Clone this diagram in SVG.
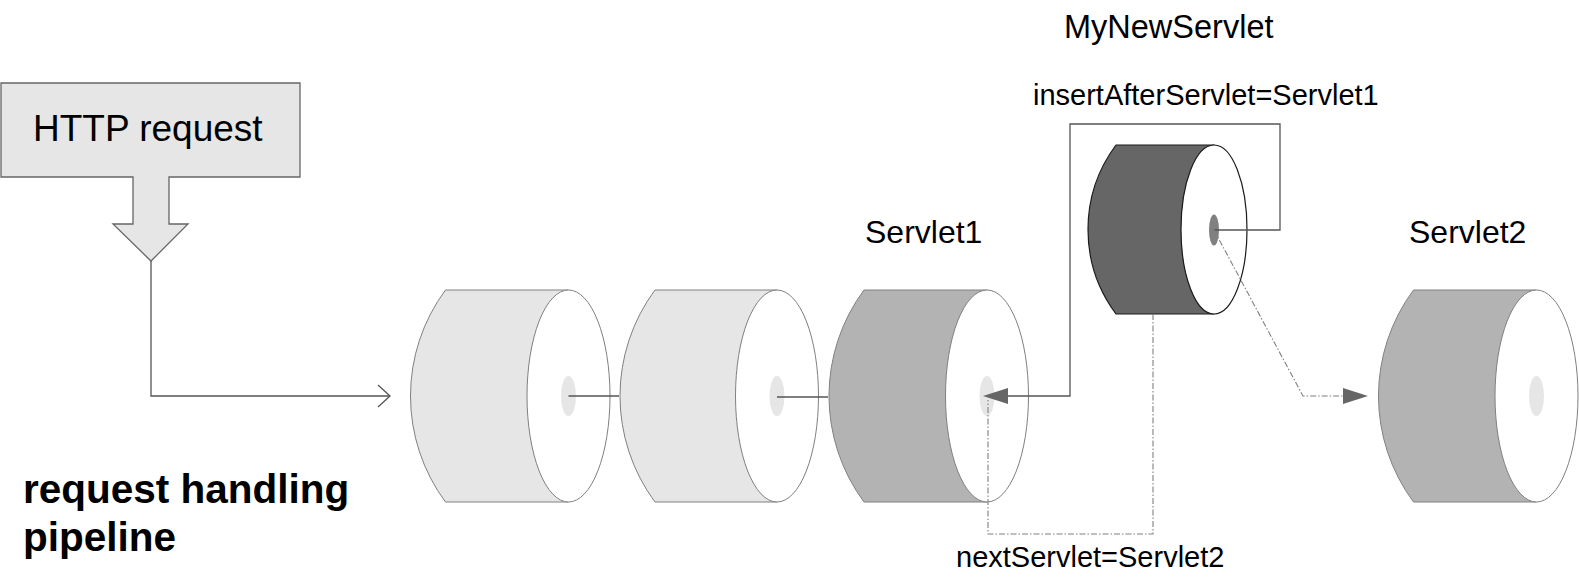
<svg xmlns="http://www.w3.org/2000/svg" width="1579" height="585" viewBox="0 0 1579 585">
<style>
text{font-family:"Liberation Sans",Arial,sans-serif;fill:#000}
.lbl{font-size:32px}
.small{font-size:29px}
.body-light{fill:#e6e6e6;stroke:#808080;stroke-width:1}
.body-mid{fill:#b3b3b3;stroke:#808080;stroke-width:1}
.body-dark{fill:#666666;stroke:#1a1a1a;stroke-width:1.2}
.face{fill:#ffffff;stroke:#808080;stroke-width:1}
.face-dark{fill:#ffffff;stroke:#1a1a1a;stroke-width:1.2}
.hole{fill:#e6e6e6;stroke:none}
.hole-dark{fill:#808080;stroke:none}
.conn{fill:none;stroke:#555555;stroke-width:1.3}
.dashdot{fill:none;stroke:#808080;stroke-width:1.1;stroke-dasharray:6 2 1.5 2}
.head{fill:#666666;stroke:none}
.cap{font-size:40.5px;font-weight:bold}
</style>
<rect width="1579" height="585" fill="#ffffff"/>

<g id="http-request">
<path d="M1,83 H300 V177 H169 V224 H188 L151,261 L113,224 H133 V177 H1 Z" fill="#e6e6e6" stroke="#666666" stroke-width="1.3"/>
<text x="33" y="141" style="font-size:37px">HTTP request</text>
</g>

<g id="servlet-a">
<path class="body-light" d="M445.5,290 H568.5 V502 H445.5 A178,178 0 0 1 445.5,290 Z"/>
<ellipse class="face" cx="568.5" cy="396" rx="41.5" ry="106"/>
<ellipse class="hole" cx="568.5" cy="396" rx="7.5" ry="20"/>
</g>

<g id="servlet-b">
<path class="body-light" d="M655,290 H777 V502 H655 A178,178 0 0 1 655,290 Z"/>
<ellipse class="face" cx="777" cy="396" rx="41.5" ry="106"/>
<ellipse class="hole" cx="777" cy="396" rx="7.5" ry="20"/>
</g>

<g id="servlet1">
<path class="body-mid" d="M864,290 H987 V502 H864 A178,178 0 0 1 864,290 Z"/>
<ellipse class="face" cx="987" cy="396" rx="41.5" ry="106"/>
<ellipse class="hole" cx="987" cy="396" rx="7.5" ry="20"/>
<text class="lbl" x="865" y="243">Servlet1</text>
</g>

<g id="servlet2">
<path class="body-mid" d="M1413.5,290 H1536.5 V502 H1413.5 A178,178 0 0 1 1413.5,290 Z"/>
<ellipse class="face" cx="1536.5" cy="396" rx="41.5" ry="106"/>
<ellipse class="hole" cx="1536.5" cy="396" rx="7.5" ry="20"/>
<text class="lbl" x="1409" y="243">Servlet2</text>
</g>

<g id="mynewservlet">
<path class="body-dark" d="M1116,145 H1214 V314 H1116 A141.5,141.5 0 0 1 1116,145 Z"/>
<ellipse class="face-dark" cx="1214" cy="229.5" rx="33" ry="84.5"/>
<ellipse class="hole-dark" cx="1214" cy="230" rx="5" ry="15.5"/>
<text class="lbl" x="1064" y="38" style="font-size:32.5px">MyNewServlet</text>
</g>

<g id="connectors">
<path class="conn" d="M151,261 V396 H389"/>
<path class="conn" d="M378,385 L390,396 L378,407"/>
<path class="conn" d="M568.5,396 H619"/>
<path class="conn" d="M777,397 H828"/>
<path class="conn" d="M1214,230 H1280 V124 H1070 V396 H1006"/>
<polygon class="head" points="983,396 1008,388 1008,404"/>
<path class="dashdot" d="M1153,314 V534 H988 V400"/>
<path class="dashdot" d="M1214,230 L1303,396 H1345"/>
<polygon class="head" points="1368,396 1343,388 1343,404"/>
<text class="small" x="1033" y="105">insertAfterServlet=Servlet1</text>
<text class="small" x="956" y="567">nextServlet=Servlet2</text>
</g>

<g id="caption">
<text class="cap" x="23" y="503">request handling</text>
<text class="cap" x="23" y="551">pipeline</text>
</g>
</svg>
